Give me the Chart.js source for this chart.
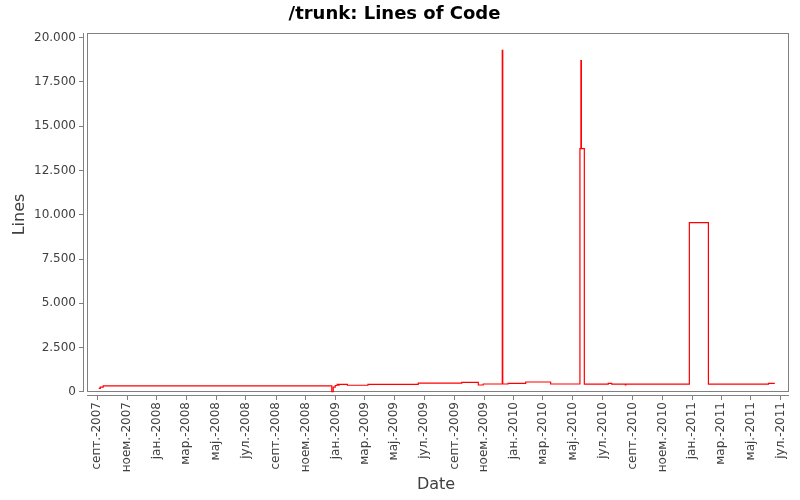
<!DOCTYPE html>
<html>
<head>
<meta charset="utf-8">
<title>/trunk: Lines of Code</title>
<script src="https://cdn.jsdelivr.net/npm/chart.js@4.4.0/dist/chart.umd.min.js"></script>
<style>
  html, body { margin: 0; padding: 0; background: #fff; }
  #wrap { width: 800px; height: 500px; }
</style>
</head>
<body>
<div id="wrap"><canvas id="loc-chart" width="800" height="500"></canvas></div>
<script>
// dates where the line count changed, and the count from that date on
const changeDates = [
    '2007-09-04', '2007-09-07', '2007-09-13',
    '2008-12-24', '2008-12-27', '2008-12-31', '2009-01-04', '2009-01-07', '2009-01-08',
    '2009-01-25', '2009-03-08', '2009-06-19', '2009-09-16', '2009-10-20', '2009-10-30',
    '2009-12-08', '2009-12-09', '2009-12-20', '2010-01-25', '2010-03-17',
    '2010-05-16', '2010-05-18', '2010-05-19', '2010-05-25',
    '2010-07-13', '2010-07-20', '2010-08-17', '2010-08-18',
    '2010-12-26', '2011-02-03', '2011-06-06', '2011-06-19'
];
const lineCounts = [
    200, 270, 345,
    20, 280, 365, 435, 380, 435,
    380, 435, 495, 545, 395, 450,
    19270, 450, 490, 565, 450,
    13730, 18700, 13730, 440,
    490, 440, 400, 440,
    9560, 440, 490, 490
];

// x axis ticks (first day of every second month)
const tickDates = [
    '2007-09-01', '2007-11-01', '2008-01-01', '2008-03-01', '2008-05-01', '2008-07-01',
    '2008-09-01', '2008-11-01', '2009-01-01', '2009-03-01', '2009-05-01', '2009-07-01',
    '2009-09-01', '2009-11-01', '2010-01-01', '2010-03-01', '2010-05-01', '2010-07-01',
    '2010-09-01', '2010-11-01', '2011-01-01', '2011-03-01', '2011-05-01', '2011-07-01'
];
const tickLabels = [
    'септ.-2007', 'ноем.-2007', 'јан.-2008', 'мар.-2008', 'мај.-2008', 'јул.-2008',
    'септ.-2008', 'ноем.-2008', 'јан.-2009', 'мар.-2009', 'мај.-2009', 'јул.-2009',
    'септ.-2009', 'ноем.-2009', 'јан.-2010', 'мар.-2010', 'мај.-2010', 'јул.-2010',
    'септ.-2010', 'ноем.-2010', 'јан.-2011', 'мар.-2011', 'мај.-2011', 'јул.-2011'
];
const yTicks = [0, 2500, 5000, 7500, 10000, 12500, 15000, 17500, 20000];

const DAY = 86400000;
const toMs = (s) => Date.parse(s + 'T00:00:00Z');

const axisGray = '#808080';
const textGray = '#404040';

// plot frame sits 4px inside the axis lines (left and bottom), like the original
const plotFrame = {
    id: 'plotFrame',
    beforeDatasetsDraw(c) {
        const a = c.chartArea;
        const ctx = c.ctx;
        ctx.save();
        ctx.strokeStyle = axisGray;
        ctx.lineWidth = 1;
        ctx.strokeRect(Math.round(a.left + 4) + 0.5, Math.round(a.top) + 0.5,
            Math.round(a.right - a.left - 5), Math.round(a.bottom - a.top - 5));
        // axis lines
        ctx.beginPath();
        ctx.moveTo(Math.round(a.left) + 0.5, a.top);
        ctx.lineTo(Math.round(a.left) + 0.5, a.bottom - 4);
        ctx.moveTo(a.left + 4, Math.round(a.bottom) - 0.5);
        ctx.lineTo(a.right, Math.round(a.bottom) - 0.5);
        ctx.stroke();
        ctx.restore();
    }
};

const ctx = document.getElementById('loc-chart');
new Chart(ctx, {
    type: 'line',
    data: {
        datasets: [{
            data: changeDates.map((d, i) => ({ x: toMs(d), y: lineCounts[i] })),
            borderColor: '#ff0000',
            borderWidth: 1.2,
            pointRadius: 0,
            stepped: 'before',
            fill: false,
        }]
    },
    options: {
        responsive: false,
        animation: false,
        devicePixelRatio: 1,
        layout: { padding: { left: 0, right: 11, top: 0, bottom: 0 } },
        plugins: {
            legend: { display: false },
            tooltip: { enabled: false },
            title: {
                display: true,
                text: '/trunk: Lines of Code',
                color: '#000',
                font: { family: 'DejaVu Sans', size: 18, weight: 'bold', lineHeight: 1.2 },
                padding: { top: 4, bottom: 7.4 },
            },
        },
        scales: {
            x: {
                type: 'linear',
                min: toMs('2007-09-01') - 29.3 * DAY,
                max: toMs('2011-07-01') + 17 * DAY,
                afterBuildTicks: (s) => { s.ticks = tickDates.map(d => ({ value: toMs(d) })); },
                afterFit: (s) => { s.height = 104; },
                ticks: {
                    autoSkip: false,
                    minRotation: 90,
                    maxRotation: 90,
                    padding: 2,
                    color: textGray,
                    font: { family: 'DejaVu Sans', size: 12 },
                    callback: (v, i) => tickLabels[i],
                },
                grid: { drawOnChartArea: false, drawTicks: true, tickLength: 4, color: axisGray },
                border: { display: false },
                title: {
                    display: true,
                    text: 'Date',
                    color: textGray,
                    font: { family: 'DejaVu Sans', size: 16, lineHeight: 1.2 },
                    padding: { top: 0, bottom: 5.4 },
                },
            },
            y: {
                type: 'linear',
                min: -226,
                max: 20254,
                afterBuildTicks: (s) => { s.ticks = yTicks.map(v => ({ value: v })); },
                afterFit: (s) => { s.width = 83; },
                ticks: {
                    padding: 3,
                    color: textGray,
                    font: { family: 'DejaVu Sans', size: 12 },
                    callback: (v) => String(v).replace(/\B(?=(\d{3})+(?!\d))/g, '.'),
                },
                grid: { drawOnChartArea: false, drawTicks: true, tickLength: 4, color: axisGray },
                border: { display: false },
                title: {
                    display: true,
                    text: 'Lines',
                    color: textGray,
                    font: { family: 'DejaVu Sans', size: 16, lineHeight: 1.2 },
                    padding: { top: 10, bottom: 0 },
                },
            },
        },
    },
    plugins: [plotFrame],
});
</script>
</body>
</html>
